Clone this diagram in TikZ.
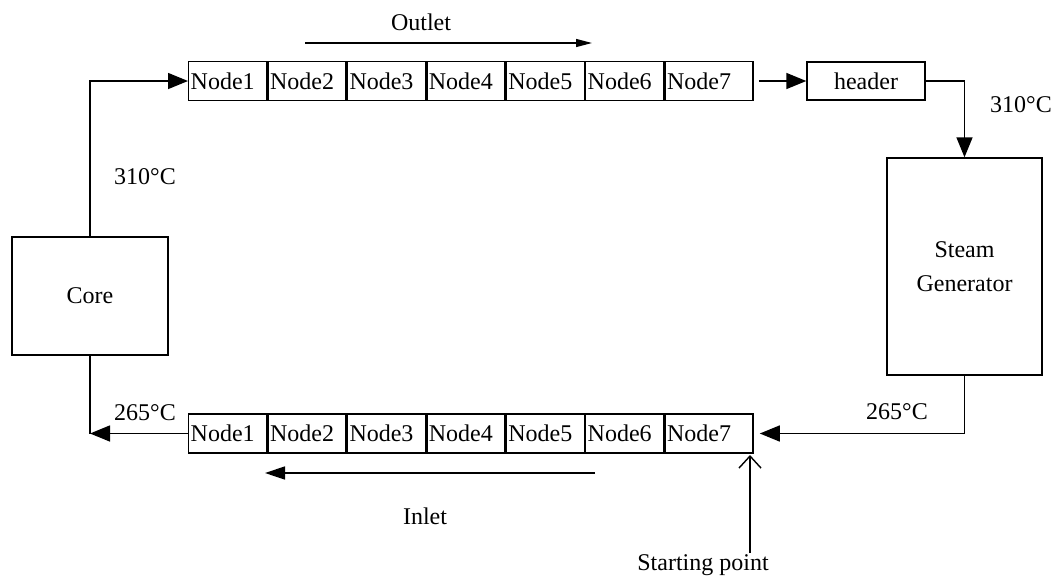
\documentclass[tikz,border=0pt]{standalone}
\usepackage{fontspec}
\setmainfont{Liberation Serif}
\usetikzlibrary{arrows.meta,positioning}

\begin{document}
\begin{tikzpicture}[x=1pt,y=-1pt,
    font=\fontsize{24}{28}\selectfont,
    box/.style={draw, line width=1.4pt, inner sep=2pt},
    cella/.style={box, minimum height=39pt, text width=74pt, align=left},
    flusso/.style={line width=1.5pt, -{Triangle[length=20pt,width=16pt]}},
    linea/.style={line width=1.5pt}]
    \useasboundingbox (0,0) rectangle (1060,582);

    % Riga superiore (uscita)
    \node[cella, anchor=west] (t1) at (188,81) {Node1};
    \foreach \i [remember=\i as \p (initially 1)] in {2,...,6}
        \node[cella, right=0pt of t\p] (t\i) {Node\i};
    \node[cella, text width=84pt, right=0pt of t6] (t7) {Node7};

    % Riga inferiore (ingresso)
    \node[cella, anchor=west] (b1) at (188,433.5) {Node1};
    \foreach \i [remember=\i as \p (initially 1)] in {2,...,6}
        \node[cella, right=0pt of b\p] (b\i) {Node\i};
    \node[cella, text width=84pt, right=0pt of b6] (b7) {Node7};

    % Blocchi
    \node[box, minimum width=156pt, minimum height=118pt] (core) at (90,296) {Core};
    \node[box, minimum width=118pt, minimum height=38pt] (header) at (866,81) {header};
    \node[box, minimum width=155pt, minimum height=217pt, align=center,
          font=\fontsize{24}{34}\selectfont] (sg) at (964.5,266.5) {Steam\\Generator};

    % Collegamenti
    \draw[flusso] (core.north) |- (t1.west);
    \draw[flusso, shorten <=5pt] (t7.east) -- (header.west);
    \draw[flusso] (header.east) -| (sg.north);
    \draw[flusso, shorten >=6pt] (sg.south) |- (b7.east);
    \coordinate (angolo) at (core.south |- b1.west);
    \draw[flusso] (b1.west) -- (angolo);
    \draw[linea] (core.south) -- (angolo);

    % Temperature
    \node (t310a) at (145,177) {310°C};
    \node (t310b) at (1021,105) {310°C};
    \node (t265a) at (145,413) {265°C};
    \node (t265b) at (897,412) {265°C};

    % Verso del flusso
    \node (outlet) at (421,22) {Outlet};
    \coordinate (outA) at (305,43);
    \coordinate (outB) at (592,43);
    \draw[line width=1.3pt, -{Triangle[length=16pt,width=8pt]}] (outA) -- (outB);

    \node (inlet) at (425,516) {Inlet};
    \coordinate (inA) at (595,473);
    \coordinate (inB) at (265,473);
    \draw[line width=1.5pt, -{Triangle[length=20pt,width=13pt]}] (inA) -- (inB);

    % Punto di partenza
    \node[anchor=north, inner sep=1pt] (start) at (703,553) {Starting point};
    \coordinate (punto) at (750,455);
    \draw[line width=1.4pt, -{Straight Barb[length=12pt,width=22pt]}] (start.north -| punto) -- (punto);
\end{tikzpicture}
\end{document}
